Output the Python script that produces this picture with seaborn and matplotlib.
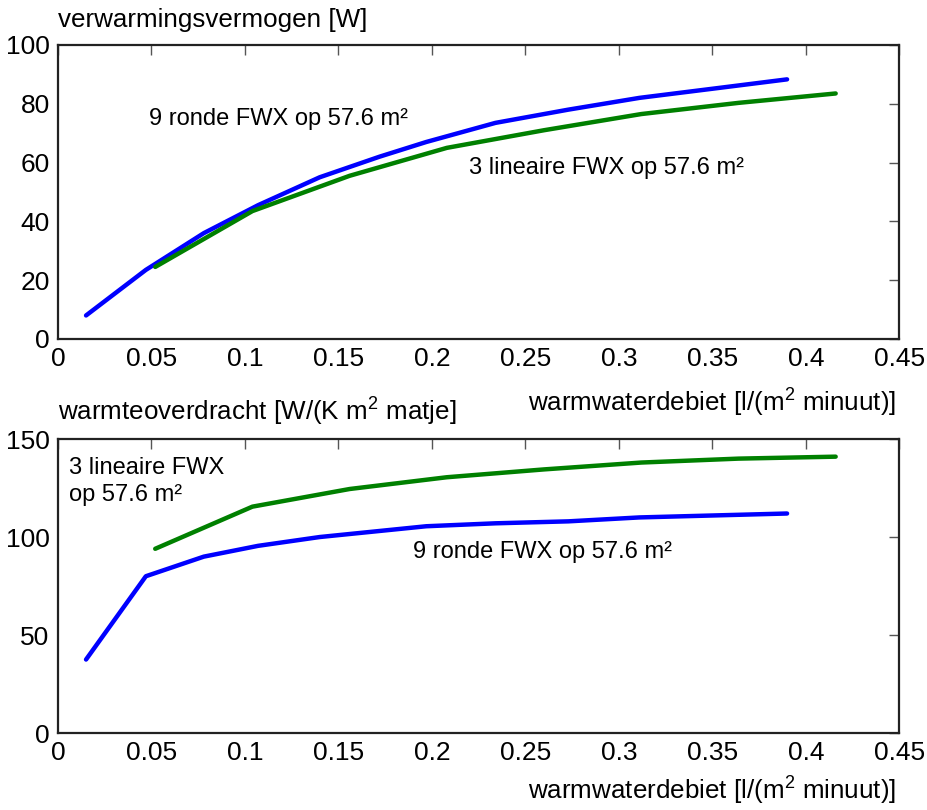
import pandas as pd
import seaborn as sns
import matplotlib.pyplot as plt

# debiet [l/(m2 minuut)] en gemeten waarden
rond_x = [0.015, 0.047, 0.078, 0.107, 0.14, 0.172, 0.197, 0.234, 0.273, 0.311, 0.355, 0.390]
rond_vermogen = [8, 23.5, 36, 45.5, 55, 62, 67, 73.5, 78, 82, 85.5, 88.3]
lin_x = [0.052, 0.104, 0.156, 0.208, 0.26, 0.312, 0.364, 0.416]
lin_vermogen = [24.5, 43.5, 55.5, 65, 71, 76.5, 80.3, 83.5]

rond_x2 = [0.015, 0.047, 0.078, 0.107, 0.14, 0.197, 0.234, 0.273, 0.311, 0.390]
rond_overdracht = [37.5, 80, 90, 95.5, 100, 105.5, 107, 108, 110, 112]
lin_overdracht = [94, 115.5, 124.5, 130.5, 134.5, 138, 140, 141]

x_ticks = [0, 0.05, 0.1, 0.15, 0.2, 0.25, 0.3, 0.35, 0.4, 0.45]
x_ticklabels = ['0', '0.05', '0.1', '0.15', '0.2', '0.25', '0.3', '0.35', '0.4', '0.45']

sns.set_style('white')
plt.rcParams['font.family'] = ['Liberation Sans', 'DejaVu Sans']
plt.rcParams['mathtext.fontset'] = 'custom'
plt.rcParams['mathtext.rm'] = 'Liberation Sans'
plt.rcParams['mathtext.it'] = 'Liberation Sans'
plt.rcParams['text.color'] = 'black'
plt.rcParams['xtick.color'] = 'black'
plt.rcParams['ytick.color'] = 'black'

BLUE = '#0000ff'
GREEN = '#008000'
LABEL_SIZE = 18.7
NOTE_SIZE = 17

fig = plt.figure(figsize=(9.28, 8.10), dpi=100)
ax1 = fig.add_axes([0.0625, 0.5815, 0.9065, 0.363])
ax2 = fig.add_axes([0.0625, 0.095, 0.9065, 0.363])


def style_axis(ax, yticks):
    ax.set_xlim(0, 0.45)
    ax.set_ylim(yticks[0], yticks[-1])
    ax.set_xticks(x_ticks)
    ax.set_xticklabels(x_ticklabels)
    ax.set_yticks(yticks)
    ax.tick_params(direction='in', top=True, right=True, length=7, width=1,
                   color='#555555', labelsize=19, pad=6)
    for s in ax.spines.values():
        s.set_linewidth(1.6)
        s.set_color('#222222')
    ax.set_xlabel('')
    ax.set_ylabel('')


df1 = pd.DataFrame({'x': rond_x, 'y': rond_vermogen})
df2 = pd.DataFrame({'x': lin_x, 'y': lin_vermogen})
sns.lineplot(data=df1, x='x', y='y', ax=ax1, color=BLUE, lw=3.2, sort=False, estimator=None)
sns.lineplot(data=df2, x='x', y='y', ax=ax1, color=GREEN, lw=3.2, sort=False, estimator=None)
style_axis(ax1, [0, 20, 40, 60, 80, 100])
fig.text(0.161, 0.853, '9 ronde FWX op 57.6 m²', fontsize=NOTE_SIZE, va='center')
fig.text(0.505, 0.792, '3 lineaire FWX op 57.6 m²', fontsize=NOTE_SIZE, va='center')
fig.text(0.0625, 0.975, 'verwarmingsvermogen [W]', fontsize=LABEL_SIZE, va='center')
fig.text(0.966, 0.503, 'warmwaterdebiet [l/(m$^2$ minuut)]', fontsize=LABEL_SIZE,
         va='center', ha='right')

df3 = pd.DataFrame({'x': rond_x2, 'y': rond_overdracht})
df4 = pd.DataFrame({'x': lin_x, 'y': lin_overdracht})
sns.lineplot(data=df3, x='x', y='y', ax=ax2, color=BLUE, lw=3.2, sort=False, estimator=None)
sns.lineplot(data=df4, x='x', y='y', ax=ax2, color=GREEN, lw=3.2, sort=False, estimator=None)
style_axis(ax2, [0, 50, 100, 150])
fig.text(0.074, 0.405, '3 lineaire FWX\nop 57.6 m²', fontsize=NOTE_SIZE, va='center',
         linespacing=1.3)
fig.text(0.445, 0.319, '9 ronde FWX op 57.6 m²', fontsize=NOTE_SIZE, va='center')
fig.text(0.0625, 0.491, 'warmteoverdracht [W/(K m$^2$ matje]', fontsize=LABEL_SIZE,
         va='center')
fig.text(0.966, 0.024, 'warmwaterdebiet [l/(m$^2$ minuut)]', fontsize=LABEL_SIZE,
         va='center', ha='right')

fig.savefig('out.png', dpi=100)
